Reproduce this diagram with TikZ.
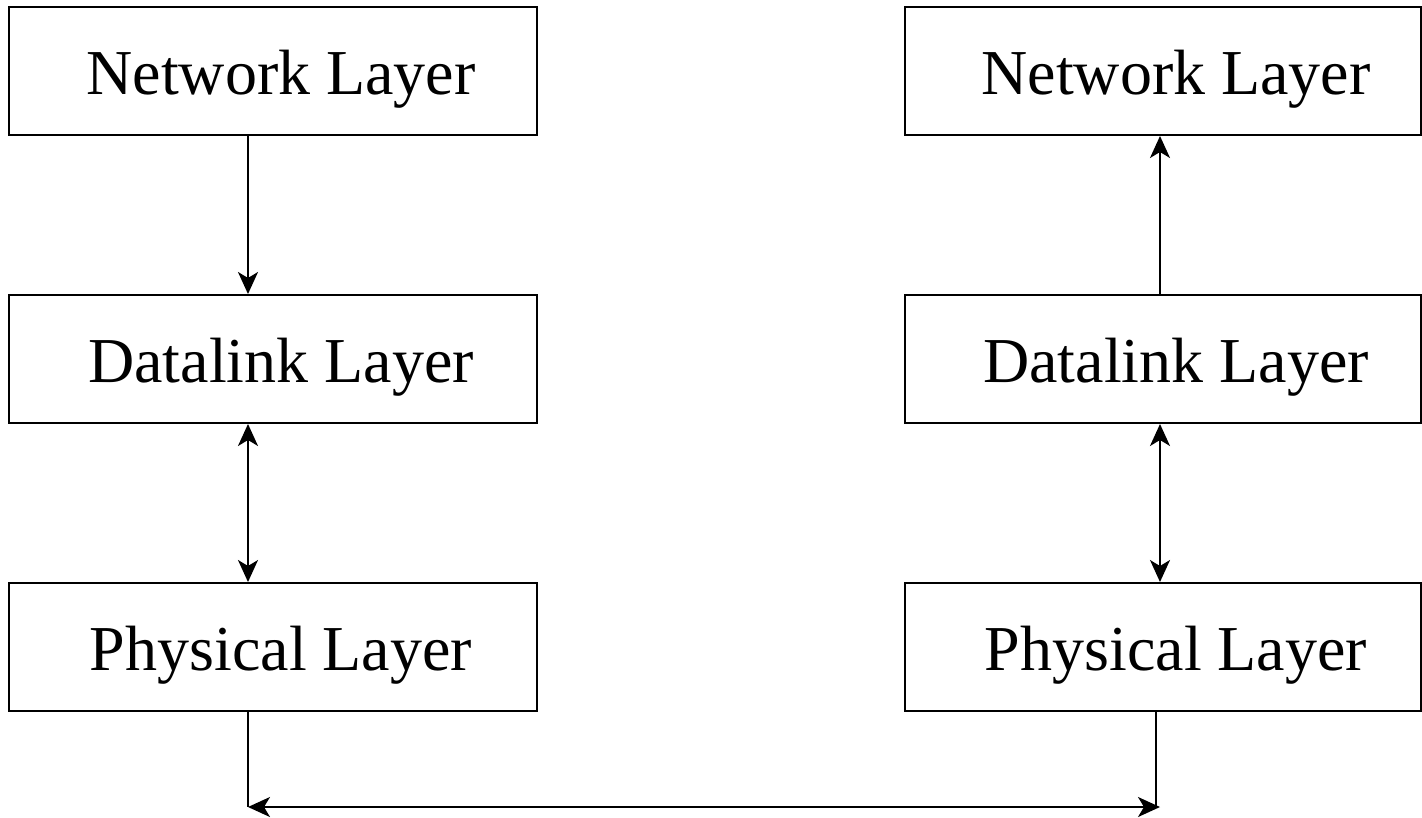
\documentclass[tikz,border=0pt]{standalone}
\usepackage{fontspec}
\setmainfont{Liberation Serif}
\usetikzlibrary{arrows.meta}
\tikzset{
  layerbox/.style={draw, line width=2pt, inner sep=0pt, minimum height=128pt,
    text height=50pt, text depth=4pt, font=\fontsize{64}{70}\selectfont},
  leftbox/.style={layerbox, minimum width=528pt},
  rightbox/.style={layerbox, minimum width=516pt},
  conn/.style={line width=2pt, -{Stealth[length=22pt,width=20pt,inset=6pt]}},
  biconn/.style={line width=2pt, {Stealth[length=22pt,width=20pt,inset=6pt]}-{Stealth[length=22pt,width=20pt,inset=6pt]}}
}
\begin{document}
\begin{tikzpicture}[x=1pt,y=-1pt]
\useasboundingbox (0,0) rectangle (1422,817);
\node[leftbox] (netL) at (273,71) {\hspace*{16pt}Network Layer};
\node[leftbox] (dlL) at (273,359) {\hspace*{16pt}Datalink Layer};
\node[leftbox] (phL) at (273,647) {\hspace*{16pt}Physical Layer};
\node[rightbox] (netR) at (1163,71) {\hspace*{26pt}Network Layer};
\node[rightbox] (dlR) at (1163,359) {\hspace*{26pt}Datalink Layer};
\node[rightbox] (phR) at (1163,647) {\hspace*{26pt}Physical Layer};
\coordinate (colL) at (248,0);
\coordinate (colR) at (1160,0);
\coordinate (busL) at (248,807);
\coordinate (busR) at (1160,807);
\coordinate (dropR) at (1156,807);
\draw[conn] (netL.south -| colL) -- (dlL.north -| colL);
\draw[biconn] (dlL.south -| colL) -- (phL.north -| colL);
\draw[conn] (dlR.north -| colR) -- (netR.south -| colR);
\draw[biconn] (dlR.south -| colR) -- (phR.north -| colR);
\draw[line width=2pt] (phL.south -| busL) -- (busL);
\draw[line width=2pt] (phR.south -| dropR) -- (dropR);
\draw[biconn] (busL) -- (busR);
\end{tikzpicture}
\end{document}
